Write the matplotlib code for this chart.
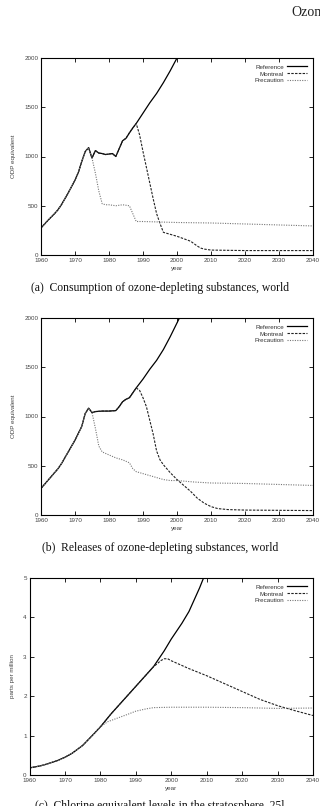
import matplotlib
matplotlib.use("Agg")
import matplotlib.pyplot as plt

# --- (a) consumption, ODP equivalent ---
cons_ref_years = [1960, 1962, 1964, 1965, 1966, 1968, 1970, 1971, 1972, 1973, 1974, 1975,
                  1976, 1977, 1978, 1979, 1980, 1981, 1982, 1983, 1984, 1985, 1986, 1987,
                  1988, 1990, 1992, 1994, 1996, 1998, 2000, 2001]
cons_ref = [275, 350, 420, 460, 510, 630, 760, 840, 950, 1050, 1090, 985,
            1060, 1035, 1030, 1020, 1025, 1030, 1000, 1080, 1160, 1185, 1240, 1290,
            1335, 1440, 1545, 1640, 1750, 1870, 2000, 2070]
cons_mont_years = [1989, 1990, 1991, 1992, 1993, 1994, 1995, 1996, 1998, 2000, 2002, 2004,
                   2005, 2006, 2007, 2008, 2010, 2020, 2040]
cons_mont = [1220, 1050, 890, 730, 570, 420, 320, 230, 210, 190, 165, 140,
             115, 90, 70, 60, 50, 45, 45]
cons_prec_years = [1976, 1977, 1978, 1979, 1980, 1982, 1984, 1986, 1987, 1988, 1990, 2000,
                   2010, 2020, 2030, 2040]
cons_prec = [830, 650, 520, 510, 510, 500, 510, 500, 420, 340, 340, 330,
             325, 315, 305, 295]

# --- (b) releases, ODP equivalent ---
rel_ref_years = [1960, 1962, 1964, 1965, 1966, 1968, 1970, 1971, 1972, 1973, 1974, 1975,
                 1976, 1978, 1980, 1982, 1983, 1984, 1985, 1986, 1987, 1988, 1990, 1992,
                 1994, 1996, 1998, 2000, 2001]
rel_ref = [270, 350, 430, 470, 520, 640, 760, 830, 900, 1030, 1085, 1040,
           1050, 1055, 1055, 1060, 1100, 1150, 1175, 1190, 1240, 1290, 1380, 1480,
           1570, 1680, 1810, 1950, 2020]
rel_mont_years = [1989, 1990, 1991, 1992, 1993, 1994, 1995, 1996, 1997, 1998, 2000, 2002,
                  2004, 2006, 2008, 2010, 2012, 2015, 2020, 2040]
rel_mont = [1265, 1190, 1100, 960, 820, 650, 560, 510, 470, 430, 360, 300,
            240, 170, 120, 85, 65, 55, 50, 45]
rel_prec_years = [1976, 1977, 1978, 1980, 1982, 1984, 1986, 1987, 1988, 1990, 1992, 1994,
                  1996, 1998, 2000, 2005, 2010, 2020, 2030, 2040]
rel_prec = [880, 700, 640, 610, 580, 560, 530, 470, 440, 420, 400, 380,
            360, 350, 350, 335, 325, 320, 310, 300]

# --- (c) chlorine, parts per million ---
cl_ref_years = [1960, 1963, 1965, 1968, 1970, 1972, 1975, 1978, 1980, 1983, 1985, 1988,
                1990, 1993, 1995, 1998, 2000, 2003, 2005, 2008, 2010]
cl_ref = [0.18, 0.23, 0.28, 0.37, 0.45, 0.55, 0.75, 1.03, 1.22, 1.55, 1.75, 2.05,
          2.25, 2.55, 2.75, 3.15, 3.45, 3.85, 4.15, 4.75, 5.2]
cl_mont_years = [1996, 1997, 1998, 1999, 2000, 2003, 2005, 2010, 2015, 2020, 2025, 2030,
                 2035, 2040]
cl_mont = [2.82, 2.9, 2.95, 2.95, 2.9, 2.78, 2.7, 2.52, 2.32, 2.12, 1.92, 1.76,
           1.63, 1.51]
cl_prec_years = [1982, 1985, 1988, 1990, 1993, 1995, 2000, 2010, 2020, 2030, 2040]
cl_prec = [1.35, 1.45, 1.55, 1.62, 1.68, 1.71, 1.72, 1.72, 1.71, 1.69, 1.70]

captions = ["(a)  Consumption of ozone-depleting substances, world",
            "(b)  Releases of ozone-depleting substances, world",
            "(c)  Chlorine equivalent levels in the stratosphere, 25l"]

plt.rcParams['font.family'] = ['Liberation Sans', 'DejaVu Sans']

fig = plt.figure(figsize=(3.2, 8.06), dpi=100)

# running page header, cut by the right edge as in the scan
fig.text(291 / 320, 1 - 13 / 806, "Ozone", family="Liberation Serif", fontsize=10,
         ha="left", va="center", color="#222")


def branch(years, vals, tail_years, tail_vals):
    # the scenario follows the reference until it splits off
    head = [(y, v) for y, v in zip(years, vals) if y < tail_years[0]]
    return [y for y, _ in head] + tail_years, [v for _, v in head] + tail_vals


def panel(rect, ref, mont, prec, ymax, yticks, ylabel, cap, cap_y):
    ax = fig.add_axes(rect)
    my, mv = branch(ref[0], ref[1], mont[0], mont[1])
    py, pv = branch(ref[0], ref[1], prec[0], prec[1])
    ax.plot(ref[0], ref[1], color="black", lw=0.9, label="Reference")
    ax.plot(my, mv, color="#222", lw=0.8, ls=(0, (2.2, 1.2)), label="Montreal")
    ax.plot(py, pv, color="#777", lw=0.8, ls=(0, (1, 1.2)), label="Precaution")
    ax.set_xlim(1960, 2040)
    ax.set_ylim(0, ymax)
    ax.set_xticks(range(1960, 2041, 10))
    ax.set_yticks(yticks)
    ax.tick_params(direction="in", top=True, right=True, length=3, width=0.6,
                   labelsize=4.5, labelcolor="#444", pad=2)
    for s in ax.spines.values():
        s.set_linewidth(0.8)
    ax.set_xlabel("year", fontsize=4.5, color="#444", labelpad=2)
    ax.set_ylabel(ylabel, fontsize=4.5, color="#444", labelpad=6)
    ax.legend(loc="upper right", frameon=False, fontsize=4.5, markerfirst=False,
              handlelength=3.2, labelspacing=0.25, handletextpad=0.4,
              borderaxespad=0.6, labelcolor="#333")
    fig.text(0.5, 1 - cap_y / 806, cap, family="Liberation Serif", fontsize=8.4,
             ha="center", va="center", color="#111")
    return ax


panel([41 / 320, 1 - 255 / 806, 272 / 320, 197 / 806],
      (cons_ref_years, cons_ref), (cons_mont_years, cons_mont), (cons_prec_years, cons_prec),
      2000, [0, 500, 1000, 1500, 2000], "ODP equivalent", captions[0], 288)
panel([41 / 320, 1 - 515 / 806, 272 / 320, 197 / 806],
      (rel_ref_years, rel_ref), (rel_mont_years, rel_mont), (rel_prec_years, rel_prec),
      2000, [0, 500, 1000, 1500, 2000], "ODP equivalent", captions[1], 548)
panel([29.5 / 320, 1 - 775 / 806, 283.5 / 320, 197 / 806],
      (cl_ref_years, cl_ref), (cl_mont_years, cl_mont), (cl_prec_years, cl_prec),
      5, [0, 1, 2, 3, 4, 5], "parts per million", captions[2], 806)

fig.savefig("out.png", dpi=100)
